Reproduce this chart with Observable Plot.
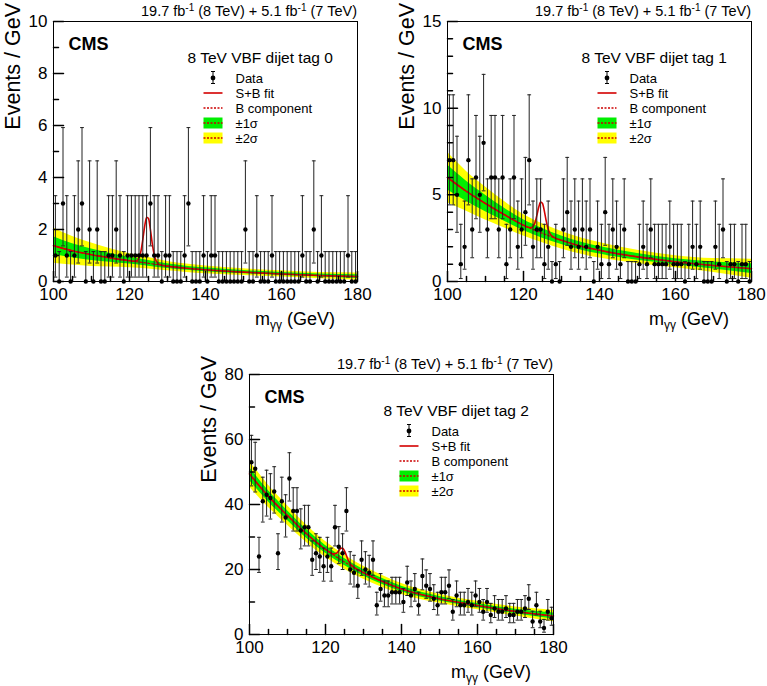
<!DOCTYPE html>
<html><head><meta charset="utf-8">
<script src="https://cdn.jsdelivr.net/npm/d3@7"></script>
<script src="https://cdn.jsdelivr.net/npm/@observablehq/plot@0.6"></script>
<style>
body{margin:0;background:#fff;}
#wrap{position:relative;width:767px;height:686px;overflow:hidden;background:#fff;}
#wrap svg{position:absolute;overflow:visible;}
</style></head><body><div id="wrap"></div>
<script>
// ---- binning (1 GeV bins from 100 to 180 GeV)
const binLow = 100, binWidth = 1;

// ---- observed events per bin
const tag0Counts = [1,0,3,1,0,1,2,3,0,2, 0,2,0,0,1,1,2,1,0,1, 1,1,1,1,1,3,1,1,0,1, 1,0,0,0,1,3,0,0,0,1,
                    0,1,1,0,0,0,0,0,0,0, 2,0,0,1,0,0,0,1,0,0, 0,0,0,0,0,1,0,0,2,0, 1,0,0,0,0,0,0,1,0,0];
const tag1Counts = [7,7,5,1,2,7,3,6,5,8, 3,6,6,3,6,1,3,6,2,3, 4,7,2,3,3,1,2,0,1,0, 3,4,2,3,2,3,2,3,0,2,
                    1,4,1,3,2,1,3,0,0,0, 1,2,1,3,1,1,1,1,2,1, 1,1,0,1,2,1,2,0,0,0, 2,1,3,0,1,1,0,1,1,0];
const tag2Counts = [53,51,24,41,43,42,44,25,41,36, 48,38,38,32,33,33,23,25,24,21, 24,21,33,27,25,38,20,19,15,23,
                    20,19,23,9,14,12,12,13,13,13, 10,16,12,14,9,18,15,14,11,9, 13,13,15,7,12,9,9,10,9,12,
                    10,7,10,6,8,7,7,8,6,6, 7,7,8,11,4,9,4,2,7,5];

// ---- Poisson 68% intervals for small counts (as drawn)
const poissonLo = [0,0.17,0.71,1.37,2.09,2.84,3.62,4.42,5.23];
const poissonHi = [1.15,3.30,4.64,5.92,7.16,8.38,9.58,10.77,11.95];

// ---- background fit (B component) and uncertainty half-widths, sampled at fitMass
const fitMass = [100,105,110,115,120,125,130,135,140,150,160,170,180];
const tag0B  = [1.38,1.18,1.03,0.91,0.80,0.70,0.59,0.51,0.45,0.36,0.29,0.23,0.19];
const tag0W1 = [0.34,0.27,0.22,0.17,0.13,0.11,0.09,0.08,0.075,0.065,0.06,0.06,0.07];
const tag0W2 = [0.68,0.55,0.45,0.35,0.27,0.22,0.18,0.16,0.15,0.13,0.12,0.12,0.14];
const tag1B  = [6.0,5.2,4.5,3.85,3.25,2.78,2.38,2.05,1.80,1.42,1.14,0.92,0.74];
const tag1W1 = [0.72,0.58,0.48,0.38,0.31,0.28,0.25,0.23,0.22,0.19,0.17,0.2,0.28];
const tag1W2 = [1.45,1.15,0.95,0.76,0.62,0.55,0.5,0.47,0.45,0.38,0.35,0.4,0.55];
const tag2B  = [49.4,42.5,36.6,31.0,26.2,22.3,19.0,16.3,14.0,11.0,8.9,7.1,5.7];
const tag2W1 = [2.0,1.7,1.5,1.35,1.2,1.1,1.0,0.92,0.85,0.7,0.65,0.7,0.9];
const tag2W2 = [4.0,3.4,3.0,2.7,2.4,2.2,2.0,1.85,1.7,1.4,1.3,1.4,1.8];

// ---- S+B fit around the signal peak
const peakMass = [121,122,123,123.5,124,124.5,125,125.5,126,126.5,127,128];
const tag0Peak = [0.78,0.81,1.16,1.61,2.13,2.47,2.42,2.0,1.45,1.03,0.79,0.64];
const tag1Peak = [3.15,3.11,3.38,3.80,4.28,4.59,4.50,4.05,3.47,3.02,2.75,2.55];
const tag2Peak = [25.4,24.8,25.1,25.8,26.5,26.6,25.7,24.3,22.8,21.8,21.2,20.3];

// ---- axes
const xMajor = [100,120,140,160,180];
const xMinor = [105,110,115,125,130,135,145,150,155,165,170,175];
const catLabels = ["8 TeV VBF dijet tag 0","8 TeV VBF dijet tag 1","8 TeV VBF dijet tag 2"];
const legendLabels = ["Data","S+B fit","B component","\u00b11\u03c3","\u00b12\u03c3"];

const FONT = '"Liberation Sans", Arial, Helvetica, sans-serif';
const W = 372, H = 335, ML = 53, MR = 15, MT = 21, MB = 54;
const tickShape = {draw(ctx, l){ ctx.moveTo(0,0); ctx.lineTo(0,-l); }};

function panel(cfg){
  const data = cfg.counts.map((n,i)=>({
    m: binLow + binWidth*(i+0.5), n,
    lo: n <= 8 ? poissonLo[n] : n - Math.sqrt(n),
    hi: n <= 8 ? poissonHi[n] : n + 1 + Math.sqrt(n)
  }));
  const band = fitMass.map((m,i)=>({m, b: cfg.B[i],
    lo1: cfg.B[i]-cfg.W1[i], hi1: cfg.B[i]+cfg.W1[i],
    lo2: cfg.B[i]-cfg.W2[i], hi2: cfg.B[i]+cfg.W2[i]}));
  const sb = fitMass.map((m,i)=>({m, v: cfg.B[i]}))
    .filter(d => d.m < peakMass[0] || d.m > peakMass[peakMass.length-1])
    .concat(peakMass.map((m,i)=>({m, v: cfg.peak[i]})))
    .sort((a,b)=>a.m-b.m);
  const curve = "monotone-x";
  const svg = Plot.plot({
    width: W, height: H, marginLeft: ML, marginRight: MR, marginTop: MT, marginBottom: MB,
    style: {fontFamily: FONT, fontSize: "17px", color: "black", background: "transparent", overflow: "visible"},
    x: {domain: [100,180]},
    y: {domain: [0, cfg.yMax]},
    marks: [
      Plot.areaY(band, {x:"m", y1:"lo2", y2:"hi2", fill:"#ffff00", curve}),
      Plot.areaY(band, {x:"m", y1:"lo1", y2:"hi1", fill:"#00ee00", curve}),
      Plot.line(band, {x:"m", y:"b", stroke:"#cc0000", strokeWidth:1.2, strokeDasharray:"2,2", curve}),
      Plot.line(sb, {x:"m", y:"v", stroke:"#d40000", strokeWidth:1.6, curve}),
      Plot.ruleX(data, {x:"m", y1:"lo", y2:"hi", stroke:"#222", strokeWidth:1}),
      Plot.link(data, {x1: d=>d.m-0.5, x2: d=>d.m+0.5, y1:"hi", y2:"hi", stroke:"#222", strokeWidth:1}),
      Plot.link(data.filter(d=>d.lo>0), {x1: d=>d.m-0.5, x2: d=>d.m+0.5, y1:"lo", y2:"lo", stroke:"#222", strokeWidth:1}),
      Plot.dot(data, {x:"m", y:"n", r:2.2, fill:"black"}),
      Plot.frame({stroke:"black", strokeWidth:1}),
      Plot.axisX(xMajor, {tickSize:0, tickPadding:6, fontSize:17, label:null}),
      Plot.axisY(cfg.yMajor, {tickSize:0, tickPadding:6, fontSize:17, label:null}),
      Plot.vector(xMajor, {x: d=>d, frameAnchor:"bottom", length:10, rotate:0, anchor:"start", shape: tickShape, stroke:"black"}),
      Plot.vector(xMinor, {x: d=>d, frameAnchor:"bottom", length:5, rotate:0, anchor:"start", shape: tickShape, stroke:"black"}),
      Plot.vector(cfg.yMajor, {y: d=>d, frameAnchor:"left", length:10, rotate:90, anchor:"start", shape: tickShape, stroke:"black"}),
      Plot.vector(cfg.yMinor, {y: d=>d, frameAnchor:"left", length:5, rotate:90, anchor:"start", shape: tickShape, stroke:"black"})
    ]
  });
  svg.style.left = (cfg.left - ML) + "px";
  svg.style.top = (cfg.top - MT) + "px";
  const s = d3.select(svg);
  const fr = W - MR;
  // luminosity label
  const lumi = s.append("text").attr("x", fr).attr("y", MT-5).attr("text-anchor","end")
    .attr("font-family", FONT).attr("font-size", 14.5).attr("fill","black");
  lumi.append("tspan").text("19.7 fb");
  lumi.append("tspan").attr("dy",-5).attr("font-size",10).text("-1");
  lumi.append("tspan").attr("dy",5).text(" (8 TeV) + 5.1 fb");
  lumi.append("tspan").attr("dy",-5).attr("font-size",10).text("-1");
  lumi.append("tspan").attr("dy",5).text(" (7 TeV)");
  // CMS
  s.append("text").attr("x", ML+15.5).attr("y", MT+29).attr("text-anchor","start").attr("font-family", FONT)
    .attr("font-weight","bold").attr("font-size",18).text("CMS");
  // category
  s.append("text").attr("x", ML+134.5).attr("y", MT+42).attr("text-anchor","start").attr("font-family", FONT)
    .attr("font-size",15.5).text(cfg.cat);
  // legend
  const lg = s.append("g").attr("font-family", FONT).attr("font-size",13).attr("text-anchor","start");
  const sx = ML+160, tx = ML+182.5, rows = [57,72,87,102,117].map(v=>v+MT);
  legendLabels.forEach((t,i)=>lg.append("text").attr("x",tx).attr("y",rows[i]+4.5).text(t));
  // data symbol
  lg.append("line").attr("x1",sx).attr("x2",sx).attr("y1",rows[0]-6.5).attr("y2",rows[0]+5.5).attr("stroke","black");
  lg.append("line").attr("x1",sx-2).attr("x2",sx+2).attr("y1",rows[0]-6.5).attr("y2",rows[0]-6.5).attr("stroke","black");
  lg.append("line").attr("x1",sx-2).attr("x2",sx+2).attr("y1",rows[0]+5.5).attr("y2",rows[0]+5.5).attr("stroke","black");
  lg.append("circle").attr("cx",sx).attr("cy",rows[0]).attr("r",2.4).attr("fill","black");
  lg.append("line").attr("x1",sx-9.5).attr("x2",sx+9.5).attr("y1",rows[1]).attr("y2",rows[1]).attr("stroke","#d40000").attr("stroke-width",1.6);
  lg.append("line").attr("x1",sx-9.5).attr("x2",sx+9.5).attr("y1",rows[2]).attr("y2",rows[2]).attr("stroke","#cc0000").attr("stroke-width",1.3).attr("stroke-dasharray","2,1.5");
  lg.append("rect").attr("x",sx-9.5).attr("width",19).attr("y",rows[3]-5.5).attr("height",11).attr("fill","#00ee00");
  lg.append("rect").attr("x",sx-9.5).attr("width",19).attr("y",rows[4]-5.5).attr("height",11).attr("fill","#ffff00");
  [3,4].forEach(r=>lg.append("line").attr("x1",sx-9.5).attr("x2",sx+9.5).attr("y1",rows[r]).attr("y2",rows[r]).attr("stroke","#cc0000").attr("stroke-width",1.3).attr("stroke-dasharray","2,1.5"));
  // x title
  const xt = s.append("text").attr("x", fr-22).attr("y", H-MB+44).attr("text-anchor","end")
    .attr("font-family", FONT).attr("font-size",18);
  xt.append("tspan").text("m");
  xt.append("tspan").attr("dy",4).attr("font-size",12).text("\u03b3\u03b3");
  xt.append("tspan").attr("dy",-4).text(" (GeV)");
  // y title
  s.append("text").attr("transform", `translate(${ML-33},${MT-18}) rotate(-90)`).attr("text-anchor","end")
    .attr("font-family", FONT).attr("font-size",21.5).text("Events / GeV");
  document.getElementById("wrap").appendChild(svg);
}

panel({counts: tag0Counts, B: tag0B, W1: tag0W1, W2: tag0W2, peak: tag0Peak, yMax: 10,
  yMajor: [0,2,4,6,8,10], yMinor: [1,3,5,7,9], cat: catLabels[0], left: 52.5, top: 21});
panel({counts: tag1Counts, B: tag1B, W1: tag1W1, W2: tag1W2, peak: tag1Peak, yMax: 15,
  yMajor: [0,5,10,15], yMinor: [1,2,3,4,6,7,8,9,11,12,13,14], cat: catLabels[1], left: 446.7, top: 21});
panel({counts: tag2Counts, B: tag2B, W1: tag2W1, W2: tag2W2, peak: tag2Peak, yMax: 80,
  yMajor: [0,20,40,60,80], yMinor: [10,30,50,70], cat: catLabels[2], left: 249.3, top: 374.3});
</script></body></html>
